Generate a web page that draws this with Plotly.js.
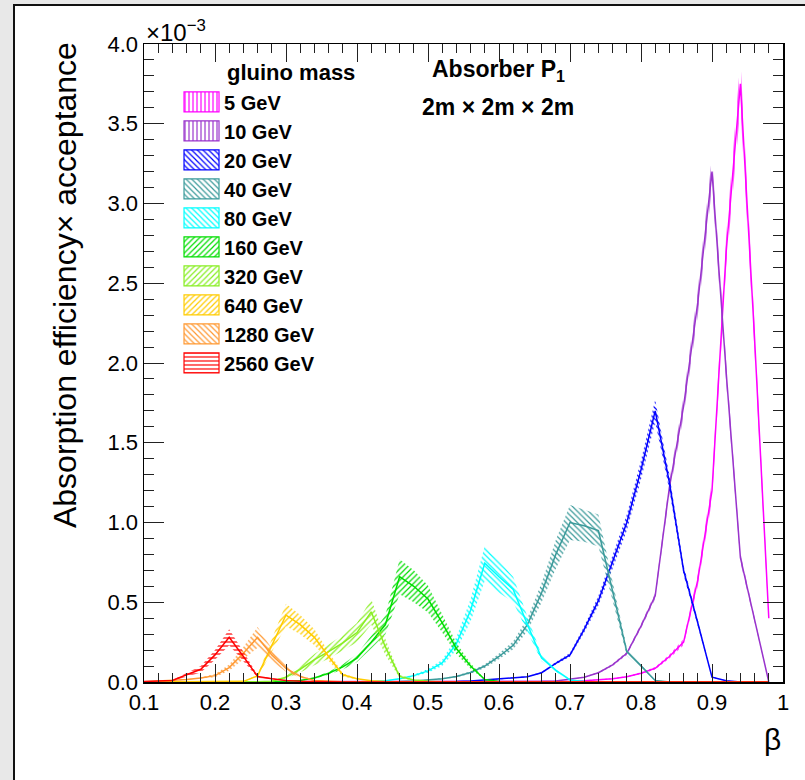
<!DOCTYPE html>
<html><head><meta charset="utf-8">
<script src="https://cdn.plot.ly/plotly-3.0.1.min.js"></script>
<style>
html,body{margin:0;padding:0;background:#e8e8e8;width:805px;height:780px;overflow:hidden;}
#frame{position:absolute;left:13px;top:4px;width:800px;height:790px;background:#fff;border-left:2px solid #111;border-top:2px solid #111;}
#chart{position:absolute;left:0;top:0;width:805px;height:780px;}
</style></head><body>
<div id="frame"></div><div id="chart"></div>
<script>
// beta grid (bin centres)
const beta = [0.10,0.12,0.14,0.16,0.18, 0.20,0.22,0.24,0.26,0.28,
              0.30,0.32,0.34,0.36,0.38, 0.40,0.42,0.44,0.46,0.48,
              0.50,0.52,0.54,0.56,0.58, 0.60,0.62,0.64,0.66,0.68,
              0.70,0.72,0.74,0.76,0.78, 0.80,0.82,0.84,0.86,0.88,
              0.90,0.92,0.94,0.96,0.98];

const massLabels = ['5 GeV','10 GeV','20 GeV','40 GeV','80 GeV','160 GeV','320 GeV','640 GeV','1280 GeV','2560 GeV'];

// efficiency x acceptance, in units of 1e-3
const eff5    = [0,0,0,0,0, 0,0,0,0,0, 0,0,0,0,0, 0,0,0,0,0, 0,0,0,0,0, 0,0,0,0,0.002, 0.004,0.008,0.012,0.02,0.033, 0.055,0.086,0.16,0.25,0.64, 1.2,2.7,3.75,2.15,0.4];
const err5    = [0,0,0,0,0, 0,0,0,0,0, 0,0,0,0,0, 0,0,0,0,0, 0,0,0,0,0, 0,0,0,0,0.001, 0.001,0.002,0.002,0.003,0.004, 0.006,0.008,0.012,0.02,0.04, 0.06,0.1,0.15,0.09,0.03];
const eff10   = [0,0,0,0,0, 0,0,0,0,0, 0,0,0,0,0, 0,0,0,0,0, 0,0,0,0,0, 0,0,0.002,0.004,0.007, 0.017,0.03,0.058,0.107,0.18, 0.35,0.54,1.22,1.73,2.38, 3.2,1.94,0.78,0.39,0];
const err10   = [0,0,0,0,0, 0,0,0,0,0, 0,0,0,0,0, 0,0,0,0,0, 0,0,0,0,0, 0,0,0.001,0.001,0.001, 0.002,0.003,0.005,0.007,0.01, 0.015,0.02,0.045,0.06,0.08, 0.1,0.07,0.03,0.015,0];
const eff20   = [0,0,0,0,0, 0,0,0,0,0, 0,0,0,0,0, 0,0,0,0,0, 0,0,0.003,0.006,0.013, 0.018,0.023,0.033,0.058,0.117, 0.17,0.33,0.51,0.75,1.0, 1.33,1.70,1.25,0.70,0.37, 0.03,0.008,0,0,0];
const err20   = [0,0,0,0,0, 0,0,0,0,0, 0,0,0,0,0, 0,0,0,0,0, 0,0,0,0.001,0.001, 0.002,0.002,0.003,0.004,0.008, 0.012,0.02,0.03,0.04,0.05, 0.06,0.07,0.05,0.03,0.02, 0.004,0.001,0,0,0];
const eff40   = [0,0,0,0,0, 0,0,0,0,0, 0,0,0,0,0, 0,0,0.002,0.003,0.006, 0.012,0.02,0.035,0.06,0.1, 0.16,0.23,0.36,0.56,0.8, 1.0,0.98,0.95,0.57,0.19, 0.1,0.01,0,0,0, 0,0,0,0,0];
const err40   = [0,0,0,0,0, 0,0,0,0,0, 0,0,0,0,0, 0,0,0,0.001,0.001, 0.002,0.003,0.005,0.008,0.012, 0.018,0.025,0.04,0.06,0.09, 0.11,0.1,0.1,0.06,0.025, 0.012,0.003,0,0,0, 0,0,0,0,0];
const eff80   = [0,0,0,0,0, 0,0,0,0,0, 0,0,0,0,0, 0,0.003,0.008,0.02,0.04, 0.07,0.12,0.24,0.45,0.745, 0.66,0.58,0.36,0.15,0.075, 0.013,0.003,0,0,0, 0,0,0,0,0, 0,0,0,0,0];
const err80   = [0,0,0,0,0, 0,0,0,0,0, 0,0,0,0,0, 0,0,0.001,0.004,0.007, 0.012,0.02,0.04,0.07,0.11, 0.1,0.08,0.05,0.02,0.01, 0.003,0.001,0,0,0, 0,0,0,0,0, 0,0,0,0,0];
const eff160  = [0,0,0,0,0, 0,0,0,0,0.002, 0.005,0.01,0.025,0.055,0.095, 0.15,0.25,0.36,0.66,0.6, 0.52,0.37,0.21,0.1,0.015, 0.003,0,0,0,0, 0,0,0,0,0, 0,0,0,0,0, 0,0,0,0,0];
const err160  = [0,0,0,0,0, 0,0,0,0,0, 0.001,0.002,0.005,0.01,0.016, 0.025,0.04,0.06,0.11,0.1, 0.085,0.06,0.035,0.017,0.003, 0.001,0,0,0,0, 0,0,0,0,0, 0,0,0,0,0, 0,0,0,0,0];
const eff320  = [0,0,0,0,0, 0,0,0,0.002,0.005, 0.03,0.08,0.14,0.19,0.245, 0.31,0.44,0.22,0.035,0.013, 0.005,0.002,0,0,0, 0,0,0,0,0, 0,0,0,0,0, 0,0,0,0,0, 0,0,0,0,0];
const err320  = [0,0,0,0,0, 0,0,0,0,0.001, 0.008,0.02,0.035,0.045,0.05, 0.06,0.08,0.05,0.01,0.004, 0.001,0,0,0,0, 0,0,0,0,0, 0,0,0,0,0, 0,0,0,0,0, 0,0,0,0,0];
const eff640  = [0,0,0,0,0, 0.001,0.002,0.004,0.038,0.23, 0.42,0.36,0.28,0.16,0.045, 0.02,0.008,0.003,0,0, 0,0,0,0,0, 0,0,0,0,0, 0,0,0,0,0, 0,0,0,0,0, 0,0,0,0,0];
const err640  = [0,0,0,0,0, 0,0,0.001,0.008,0.04, 0.07,0.06,0.05,0.03,0.01, 0.004,0.002,0,0,0, 0,0,0,0,0, 0,0,0,0,0, 0,0,0,0,0, 0,0,0,0,0, 0,0,0,0,0];
const eff1280 = [0.002,0.005,0.008,0.015,0.025, 0.04,0.09,0.18,0.28,0.17, 0.085,0.035,0.01,0.004,0.002, 0,0,0,0,0, 0,0,0,0,0, 0,0,0,0,0, 0,0,0,0,0, 0,0,0,0,0, 0,0,0,0,0];
const err1280 = [0,0.001,0.001,0.002,0.004, 0.01,0.02,0.04,0.065,0.04, 0.02,0.008,0.002,0.001,0, 0,0,0,0,0, 0,0,0,0,0, 0,0,0,0,0, 0,0,0,0,0, 0,0,0,0,0, 0,0,0,0,0];
const eff2560 = [0.003,0.005,0.01,0.045,0.08, 0.17,0.28,0.16,0.035,0.02, 0.01,0.005,0.002,0,0, 0,0,0,0,0, 0,0,0,0,0, 0,0,0,0,0, 0,0,0,0,0, 0,0,0,0,0, 0,0,0,0,0];
const err2560 = [0.001,0.001,0.002,0.012,0.02, 0.03,0.05,0.03,0.008,0.004, 0.002,0.001,0,0,0, 0,0,0,0,0, 0,0,0,0,0, 0,0,0,0,0, 0,0,0,0,0, 0,0,0,0,0, 0,0,0,0,0];

const xTickVals = [0.1,0.2,0.3,0.4,0.5,0.6,0.7,0.8,0.9,1.0];
const xTickText = ['0.1','0.2','0.3','0.4','0.5','0.6','0.7','0.8','0.9','1'];
const yTickVals = [0,0.5,1.0,1.5,2.0,2.5,3.0,3.5,4.0];
const yTickText = ['0.0','0.5','1.0','1.5','2.0','2.5','3.0','3.5','4.0'];

// styles
const series = [eff5,eff10,eff20,eff40,eff80,eff160,eff320,eff640,eff1280,eff2560];
const errors = [err5,err10,err20,err40,err80,err160,err320,err640,err1280,err2560];
const colors = ['#ff00ff','#9933cc','#0000ff','#3a9a9a','#00ffff','#00dd00','#88ee22','#ffcc00','#ff9933','#ff0000'];
const hatch  = ['|','|','\\','\\','\\','/','/','/','\\','-'];

const FONT = '"Liberation Sans", Arial, Helvetica, sans-serif';
const traces = [];
series.forEach((vals, k) => {
  const err = errors[k];
  const hi = vals.map((v, i) => v + err[i]);
  const lo = vals.map((v, i) => Math.max(0, v - err[i]));
  traces.push({
    x: beta.concat(beta.slice().reverse()),
    y: hi.concat(lo.slice().reverse()),
    type: 'scatter', mode: 'lines', fill: 'toself',
    line: {width: 0, color: colors[k]},
    fillcolor: colors[k],
    fillpattern: {shape: hatch[k], size: 4, solidity: 0.3, fgcolor: colors[k], bgcolor: 'rgba(0,0,0,0)', fillmode: 'replace'},
    name: massLabels[k], legendgroup: 'g' + k, showlegend: true, hoverinfo: 'skip'
  });
  traces.push({
    x: beta, y: vals, type: 'scatter', mode: 'lines',
    line: {width: 1.5, color: colors[k]},
    name: massLabels[k], legendgroup: 'g' + k, showlegend: false
  });
});

const axisCommon = {
  ticks: 'inside', tickwidth: 1, tickcolor: '#222',
  showline: true, linecolor: '#000', linewidth: 1.5, mirror: 'ticks',
  showgrid: false, zeroline: false, tickfont: {size: 22, family: FONT, color: '#000'}
};

const layout = {
  width: 805, height: 780,
  margin: {l: 144, r: 22, t: 44, b: 98, pad: 0},
  paper_bgcolor: 'rgba(0,0,0,0)', plot_bgcolor: '#fff',
  font: {family: FONT, color: '#000'},
  showlegend: true,
  legend: {x: 0.0548, xanchor: 'left', y: 0.9397, yanchor: 'top', bgcolor: 'rgba(0,0,0,0)',
           borderwidth: 0, itemwidth: 35, tracegroupgap: 0, traceorder: 'normal',
           font: {size: 20, weight: 'bold', family: FONT, color: '#000'}},
  xaxis: Object.assign({}, axisCommon, {
    range: [0.1, 1], tickmode: 'array', tickvals: xTickVals, ticktext: xTickText, ticklen: 18,
    minor: {tickmode: 'linear', tick0: 0.1, dtick: 0.02, ticks: 'inside', ticklen: 9, tickwidth: 1, tickcolor: '#222'}
  }),
  yaxis: Object.assign({}, axisCommon, {
    range: [0, 4], tickmode: 'array', tickvals: yTickVals, ticktext: yTickText, ticklen: 20,
    minor: {tickmode: 'linear', tick0: 0, dtick: 0.1, ticks: 'inside', ticklen: 10, tickwidth: 1, tickcolor: '#222'}
  }),
  annotations: [
    {text: '×10<sup>−3</sup>', xref: 'paper', yref: 'paper', x: 0, y: 1, xanchor: 'left', yanchor: 'bottom',
     yshift: -4, showarrow: false, font: {size: 24, family: FONT}},
    {text: 'Absorption efficiency× acceptance', xref: 'paper', yref: 'paper', x: -0.1236, y: 1,
     xanchor: 'center', yanchor: 'top', yshift: 4, textangle: -90, showarrow: false, font: {size: 32, family: FONT}},
    {text: 'β', xref: 'paper', yref: 'paper', x: 1, y: -0.0909, xanchor: 'right', yanchor: 'middle',
     showarrow: false, font: {size: 30, family: FONT}},
    {text: 'gluino mass', xref: 'paper', yref: 'paper', x: 0.1268, y: 0.956, xanchor: 'left', yanchor: 'middle',
     showarrow: false, font: {size: 22, weight: 'bold', family: FONT}},
    {text: 'Absorber P<sub>1</sub>', xref: 'paper', yref: 'paper', x: 0.554, y: 0.958, xanchor: 'center', yanchor: 'middle',
     showarrow: false, font: {size: 23, weight: 'bold', family: FONT}},
    {text: '2m × 2m × 2m', xref: 'paper', yref: 'paper', x: 0.554, y: 0.901, xanchor: 'center', yanchor: 'middle',
     showarrow: false, font: {size: 23, weight: 'bold', family: FONT}}
  ]
};

Plotly.newPlot('chart', traces, layout, {displayModeBar: false, staticPlot: true}).then(gd => {
  gd.querySelectorAll('.legend .traces').forEach(g => {
    const d = g.__data__;
    const tr = d && d[0] && d[0].trace;
    const p = g.querySelector('.legendfill path');
    if (p && tr) {
      p.setAttribute('d', 'M5,-10h35v20h-35z');
      p.style.stroke = tr.line.color;
      p.style.strokeWidth = '1.2px';
    }
  });
});
</script>
</body></html>
